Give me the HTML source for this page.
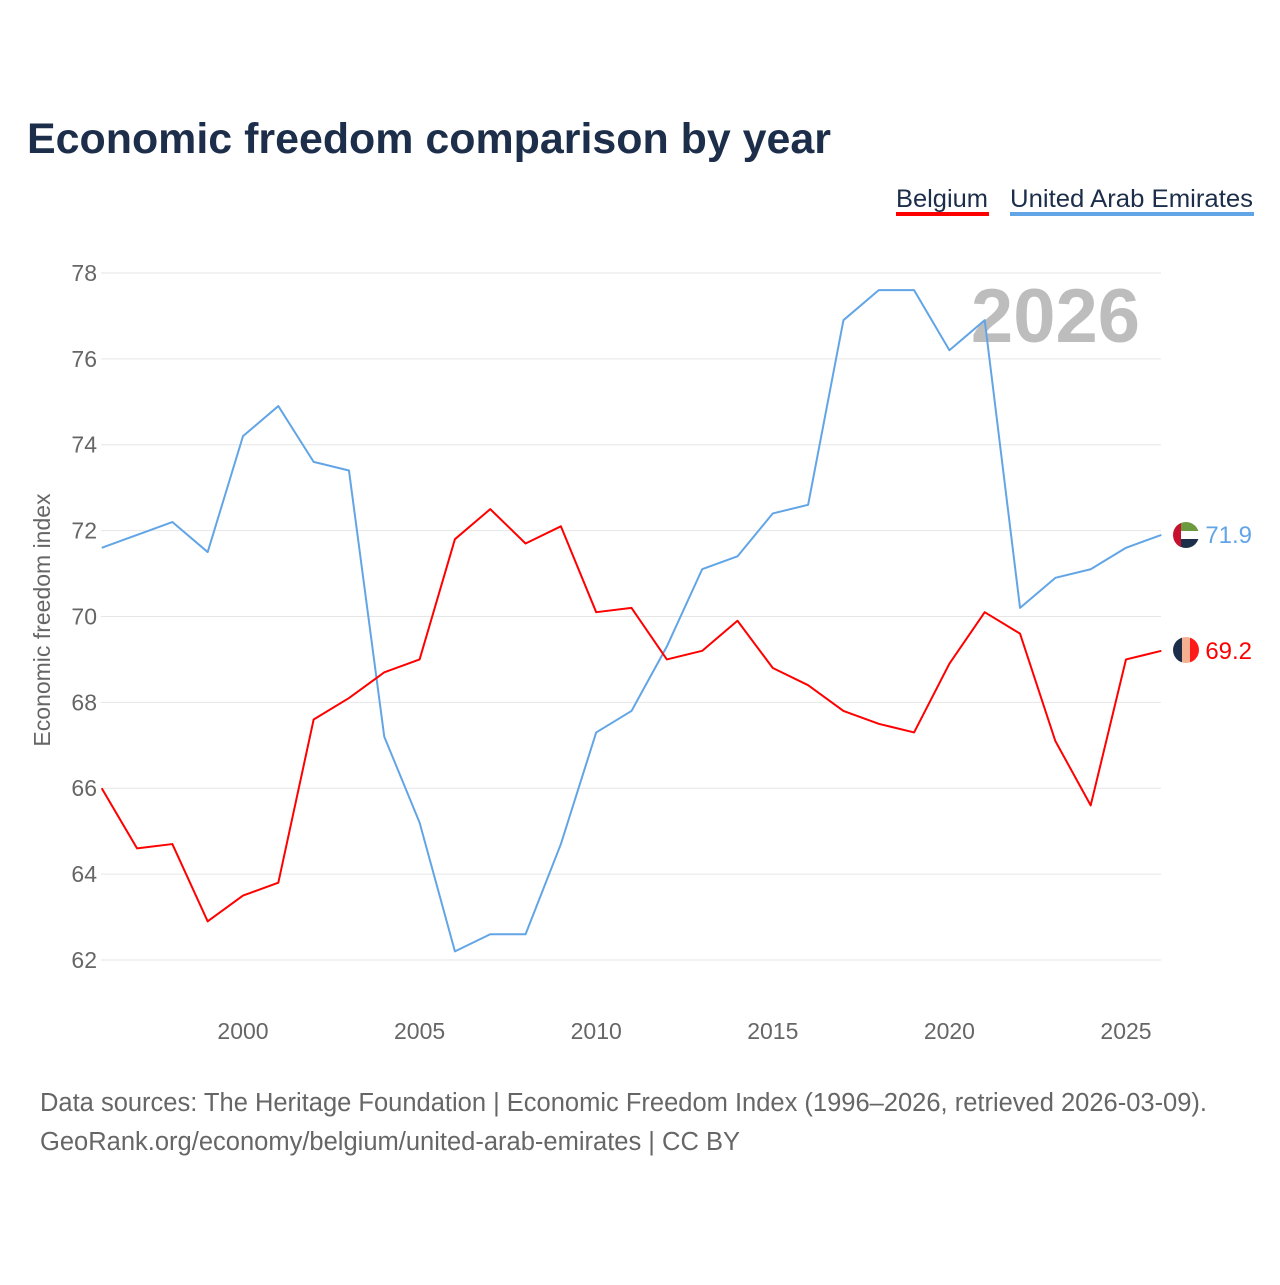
<!DOCTYPE html>
<html><head><meta charset="utf-8"><style>
body{margin:0;background:#fff;font-family:"Liberation Sans",sans-serif}
</style></head><body>
<svg id="chart" width="1280" height="1280" xmlns="http://www.w3.org/2000/svg" font-family="Liberation Sans, sans-serif">
<defs>
<clipPath id="cu"><circle cx="1186" cy="535" r="13"/></clipPath>
<clipPath id="cb"><circle cx="1186" cy="650" r="13"/></clipPath>
</defs>
<rect width="1280" height="1280" fill="#fff"/>
<text x="27" y="153" font-size="43" font-weight="bold" fill="#1c2e4a" textLength="804" lengthAdjust="spacingAndGlyphs">Economic freedom comparison by year</text>
<g><text x="896" y="207" font-size="25" fill="#1c2e4a" textLength="92" lengthAdjust="spacingAndGlyphs">Belgium</text><rect x="896" y="212" width="93" height="4" fill="#ff0000"/></g>
<g><text x="1010" y="207" font-size="25" fill="#1c2e4a" textLength="243" lengthAdjust="spacingAndGlyphs">United Arab Emirates</text><rect x="1010" y="212" width="244" height="4" fill="#62a5e6"/></g>
<text x="1140" y="342" font-size="76" font-weight="bold" fill="#bdbdbd" text-anchor="end">2026</text>
<text transform="translate(50,620) rotate(-90)" font-size="23" fill="#666" text-anchor="middle">Economic freedom index</text>
<g id="grid"></g><g id="series"></g>
<g clip-path="url(#cu)">
<rect x="1173" y="522" width="26" height="9" fill="#6d9a3f"/><rect x="1173" y="531" width="26" height="8" fill="#fff"/><rect x="1173" y="539" width="26" height="9" fill="#1c2e4a"/><rect x="1173" y="522" width="8" height="26" fill="#c8102e"/>
</g>
<g clip-path="url(#cb)">
<rect x="1173" y="637" width="9" height="26" fill="#1c2e4a"/><rect x="1182" y="637" width="8" height="26" fill="#f4b090"/><rect x="1190" y="637" width="9" height="26" fill="#ff1a1a"/>
</g>
<text x="40" y="1111" font-size="25.5" fill="#666" textLength="1167" lengthAdjust="spacingAndGlyphs">Data sources: The Heritage Foundation | Economic Freedom Index (1996–2026, retrieved 2026-03-09).</text>
<text x="40" y="1150" font-size="25.5" fill="#666" textLength="700" lengthAdjust="spacingAndGlyphs">GeoRank.org/economy/belgium/united-arab-emirates | CC BY</text>
</svg>
<script>
const years=[1996,1997,1998,1999,2000,2001,2002,2003,2004,2005,2006,2007,2008,2009,2010,2011,2012,2013,2014,2015,2016,2017,2018,2019,2020,2021,2022,2023,2024,2025,2026];
const belgium=[66.0,64.6,64.7,62.9,63.5,63.8,67.6,68.1,68.7,69.0,71.8,72.5,71.7,72.1,70.1,70.2,69.0,69.2,69.9,68.8,68.4,67.8,67.5,67.3,68.9,70.1,69.6,67.1,65.6,69.0,69.2];
const uae=[71.6,71.9,72.2,71.5,74.2,74.9,73.6,73.4,67.2,65.2,62.2,62.6,62.6,64.7,67.3,67.8,69.3,71.1,71.4,72.4,72.6,76.9,77.6,77.6,76.2,76.9,70.2,70.9,71.1,71.6,71.9];
const yTicks=[62,64,66,68,70,72,74,76,78];
const xTicks=[2000,2005,2010,2015,2020,2025];
const NS="http://www.w3.org/2000/svg";
const x=v=>243+(v-2000)*35.32;
const y=v=>960-(v-62)*42.94;
const grid=document.getElementById('grid'),ser=document.getElementById('series');
function mk(tag,attrs,parent,txt){const e=document.createElementNS(NS,tag);for(const k in attrs)e.setAttribute(k,attrs[k]);if(txt!=null)e.textContent=txt;parent.appendChild(e);return e;}
yTicks.forEach(t=>{
 const l=mk('line',{x1:101,x2:1161,y1:y(t),y2:y(t),stroke:'#e6e6e6','stroke-width':1},grid);
 
 
 const tx=mk('text',{x:97,y:y(t)+8,'font-size':23,fill:'#666','text-anchor':'end'},grid,t);
 
 
});
xTicks.forEach(t=>{
 const tx=mk('text',{x:x(t),y:1039,'font-size':23,fill:'#666','text-anchor':'middle'},grid,t);
 
 
});
function line(vals,color,name){
 const p=mk('polyline',{points:vals.map((v,i)=>x(years[i])+','+y(v)).join(' '),fill:'none',stroke:color,'stroke-width':2,'stroke-linejoin':'round'},ser);
 
 
 const last=vals[vals.length-1],lx=x(years[years.length-1]);
 const t=mk('text',{x:lx+44,y:y(last)+8,'font-size':24,fill:color},ser,last.toFixed(1));
 
 
}
line(uae,'#62a5e6','uae-line');
line(belgium,'#ff0000','belgium-line');
</script>
</body></html>
